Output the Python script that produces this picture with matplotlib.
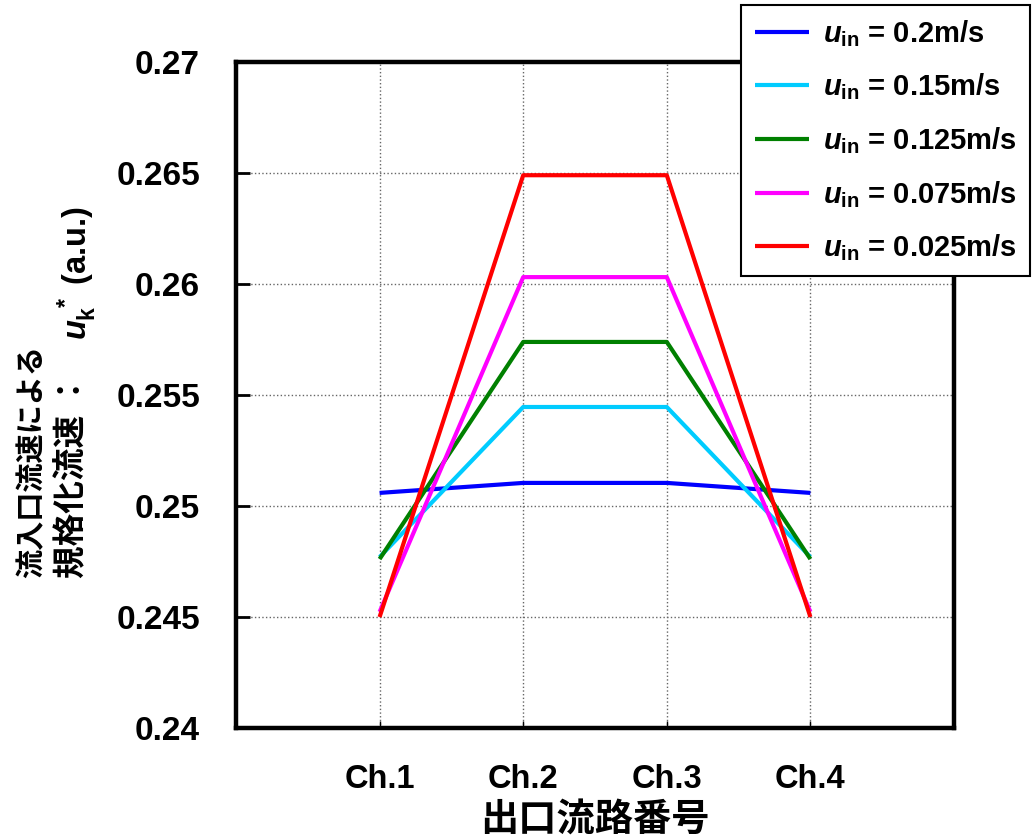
import matplotlib
matplotlib.use("Agg")
import matplotlib.pyplot as plt

# ---- data ----
channels = ["Ch.1", "Ch.2", "Ch.3", "Ch.4"]
labels = ["0.2m/s", "0.15m/s", "0.125m/s", "0.075m/s", "0.025m/s"]
v_02 = [0.25059, 0.25104, 0.25104, 0.25059]
v_015 = [0.24770, 0.25446, 0.25446, 0.24770]
v_0125 = [0.24761, 0.25739, 0.25739, 0.24761]
v_0075 = [0.24523, 0.26031, 0.26031, 0.24523]
v_0025 = [0.24500, 0.26490, 0.26490, 0.24500]
series = [v_02, v_015, v_0125, v_0075, v_0025]
colors = ["#0000FF", "#00CCFF", "#008000", "#FF00FF", "#FF0000"]
yticks = [0.24, 0.245, 0.25, 0.255, 0.26, 0.265, 0.27]
ytick_labels = ["0.24", "0.245", "0.25", "0.255", "0.26", "0.265", "0.27"]

FAM = ["Liberation Sans", "Noto Sans CJK JP"]
plt.rcParams["font.family"] = FAM
plt.rcParams["font.weight"] = "bold"
plt.rcParams["mathtext.fontset"] = "custom"
plt.rcParams["mathtext.rm"] = "Liberation Sans:bold"
plt.rcParams["mathtext.bf"] = "Liberation Sans:bold"
plt.rcParams["mathtext.it"] = "Liberation Sans:italic:bold"

fig = plt.figure(figsize=(10.33, 8.39), dpi=100)
ax = fig.add_axes([236/1033, 1-728/839, (954-236)/1033, (728-62)/839])

x = [1, 2, 3, 4]
for vals, c, lab in zip(series, colors, labels):
    ax.plot(x, vals, color=c, lw=3.0, label=r"$u_{\mathrm{in}}$ = " + lab,
            solid_capstyle="butt")

ax.set_xlim(0, 5)
ax.set_ylim(0.24, 0.27)
ax.set_xticks(x)
ax.set_xticklabels(channels, fontsize=23.5, fontweight="bold")
ax.set_yticks(yticks)
ax.set_yticklabels(ytick_labels, fontsize=24, fontweight="bold")
ax.tick_params(axis="y", direction="in", length=10, width=2, pad=26)
ax.tick_params(axis="x", direction="in", length=5, width=1, pad=26)
ax.grid(True, color="#666666", linestyle=":", linewidth=1.0)
ax.set_axisbelow(True)
for s in ax.spines.values():
    s.set_linewidth(3.2)

fig.text(595/1033, 1-822/839, "出口流路番号", fontsize=27.5, fontweight="bold",
         ha="center", va="center", family=FAM)

fig.text(32/1033, 1-578/839, "流入口流速による", fontsize=21, fontweight="bold",
         rotation=90, rotation_mode="anchor", ha="left", va="center", family=FAM)
fig.text(73/1033, 1-578/839, "規格化流速 ：", fontsize=23.5,
         fontweight="bold", rotation=90, rotation_mode="anchor", ha="left",
         va="center", family=FAM)
fig.text(77/1033, 1-340/839, r"$u_{\mathrm{k}}^{\ *}$ (a.u.)", fontsize=23.5,
         fontweight="bold", rotation=90, rotation_mode="anchor", ha="left",
         va="center", family=FAM)

leg = fig.legend(loc="upper right", bbox_to_anchor=(1030/1033, 1-5/839),
                 bbox_transform=fig.transFigure, borderaxespad=0,
                 fancybox=False, edgecolor="black", framealpha=1,
                 prop={"size": 21, "weight": "bold", "family": FAM},
                 handlelength=1.85, labelspacing=0.78, borderpad=0.45,
                 handletextpad=0.5)
leg.get_frame().set_linewidth(1.5)

fig.savefig("out.png", dpi=100)
